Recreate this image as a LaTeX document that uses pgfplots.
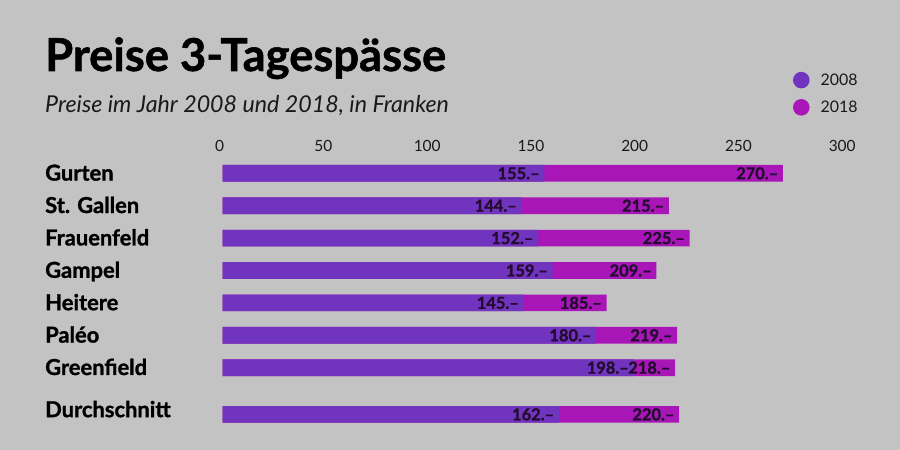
\documentclass[border=0pt]{standalone}
\usepackage{pgfplots}
\pgfplotsset{compat=1.18}
\usepackage{fontspec}
\setmainfont{Lato}
\newfontfamily\heavy{Lato}[BoldFeatures={FakeBold=1.2}]
\definecolor{bg}{RGB}{195,195,195}
\definecolor{c2008}{RGB}{112,52,190}
\definecolor{c2018}{RGB}{168,22,184}
\definecolor{lab}{RGB}{35,12,48}
\definecolor{txt}{RGB}{25,25,25}
\begin{document}
\begin{tikzpicture}
\useasboundingbox (0,0) rectangle (900bp,450bp);
\fill[bg] (0,0) rectangle (900bp,450bp);
\node[anchor=base west, inner sep=0pt, text=black] at (45bp,379bp) {\fontsize{45.5}{50}\selectfont\heavy\bfseries Preise 3-Tagespässe};
\node[anchor=base west, inner sep=0pt, text=txt] at (45bp,337.7bp) {\fontsize{23.3}{26}\selectfont\itshape Preise im Jahr 2008 und 2018, in Franken};
\begin{axis}[
  at={(222.7bp,20bp)}, anchor=south west,
  scale only axis, width=622.5bp, height=275bp,
  xmin=0, xmax=300, ymin=-7.923, ymax=0.565,
  clip=false,
  axis line style={draw=none}, major tick length=0pt,
  /pgf/number format/assume math mode=true,
  xtick={0,50,...,300}, xticklabel pos=upper,
  xticklabel style={font=\fontsize{15.5}{18}\selectfont, text=txt, xshift=-3bp},
  ytick={0,-1,-2,-3,-4,-5,-6,-7.44},
  yticklabels={Gurten,St. Gallen,Frauenfeld,Gampel,Heitere,Paléo,Greenfield,\raisebox{4.5bp}{Durchschnitt}},
  yticklabel style={anchor=base west, inner sep=0pt, xshift=-177.7bp, yshift=-7.3bp, font=\fontsize{22}{24}\selectfont\heavy\bfseries, text=black},
  xbar, bar width=16.7bp,
  point meta=x,
  nodes near coords={\pgfmathprintnumber{\pgfplotspointmeta}.–},
  every node near coord/.append style={anchor=east, font=\fontsize{16.5}{18}\selectfont\heavy\bfseries, text=lab, inner sep=0pt, xshift=-4.5bp},
  reverse legend,
  legend cell align=left,
  legend style={draw=none, fill=none, inner sep=0pt, at={(axis description cs:0.9158,1.304)}, anchor=north west, row sep=10.2bp, column sep=9bp, font=\fontsize{16}{18}\selectfont, text=txt},
]
\addplot[xbar, bar shift=0pt, fill=c2018, draw=none,
  legend image code/.code={\fill[c2018] (0bp,0bp) circle (8.3bp);}]
  coordinates {(270,0) (215,-1) (225,-2) (209,-3) (185,-4) (219,-5) (218,-6) (220,-7.44)};
\addlegendentry{2018}
\addplot[xbar, bar shift=0pt, fill=c2008, draw=none,
  legend image code/.code={\fill[c2008] (0bp,0bp) circle (8.3bp);}]
  coordinates {(155,0) (144,-1) (152,-2) (159,-3) (145,-4) (180,-5) (198,-6) (162,-7.44)};
\addlegendentry{2008}
\end{axis}
\end{tikzpicture}
\end{document}
